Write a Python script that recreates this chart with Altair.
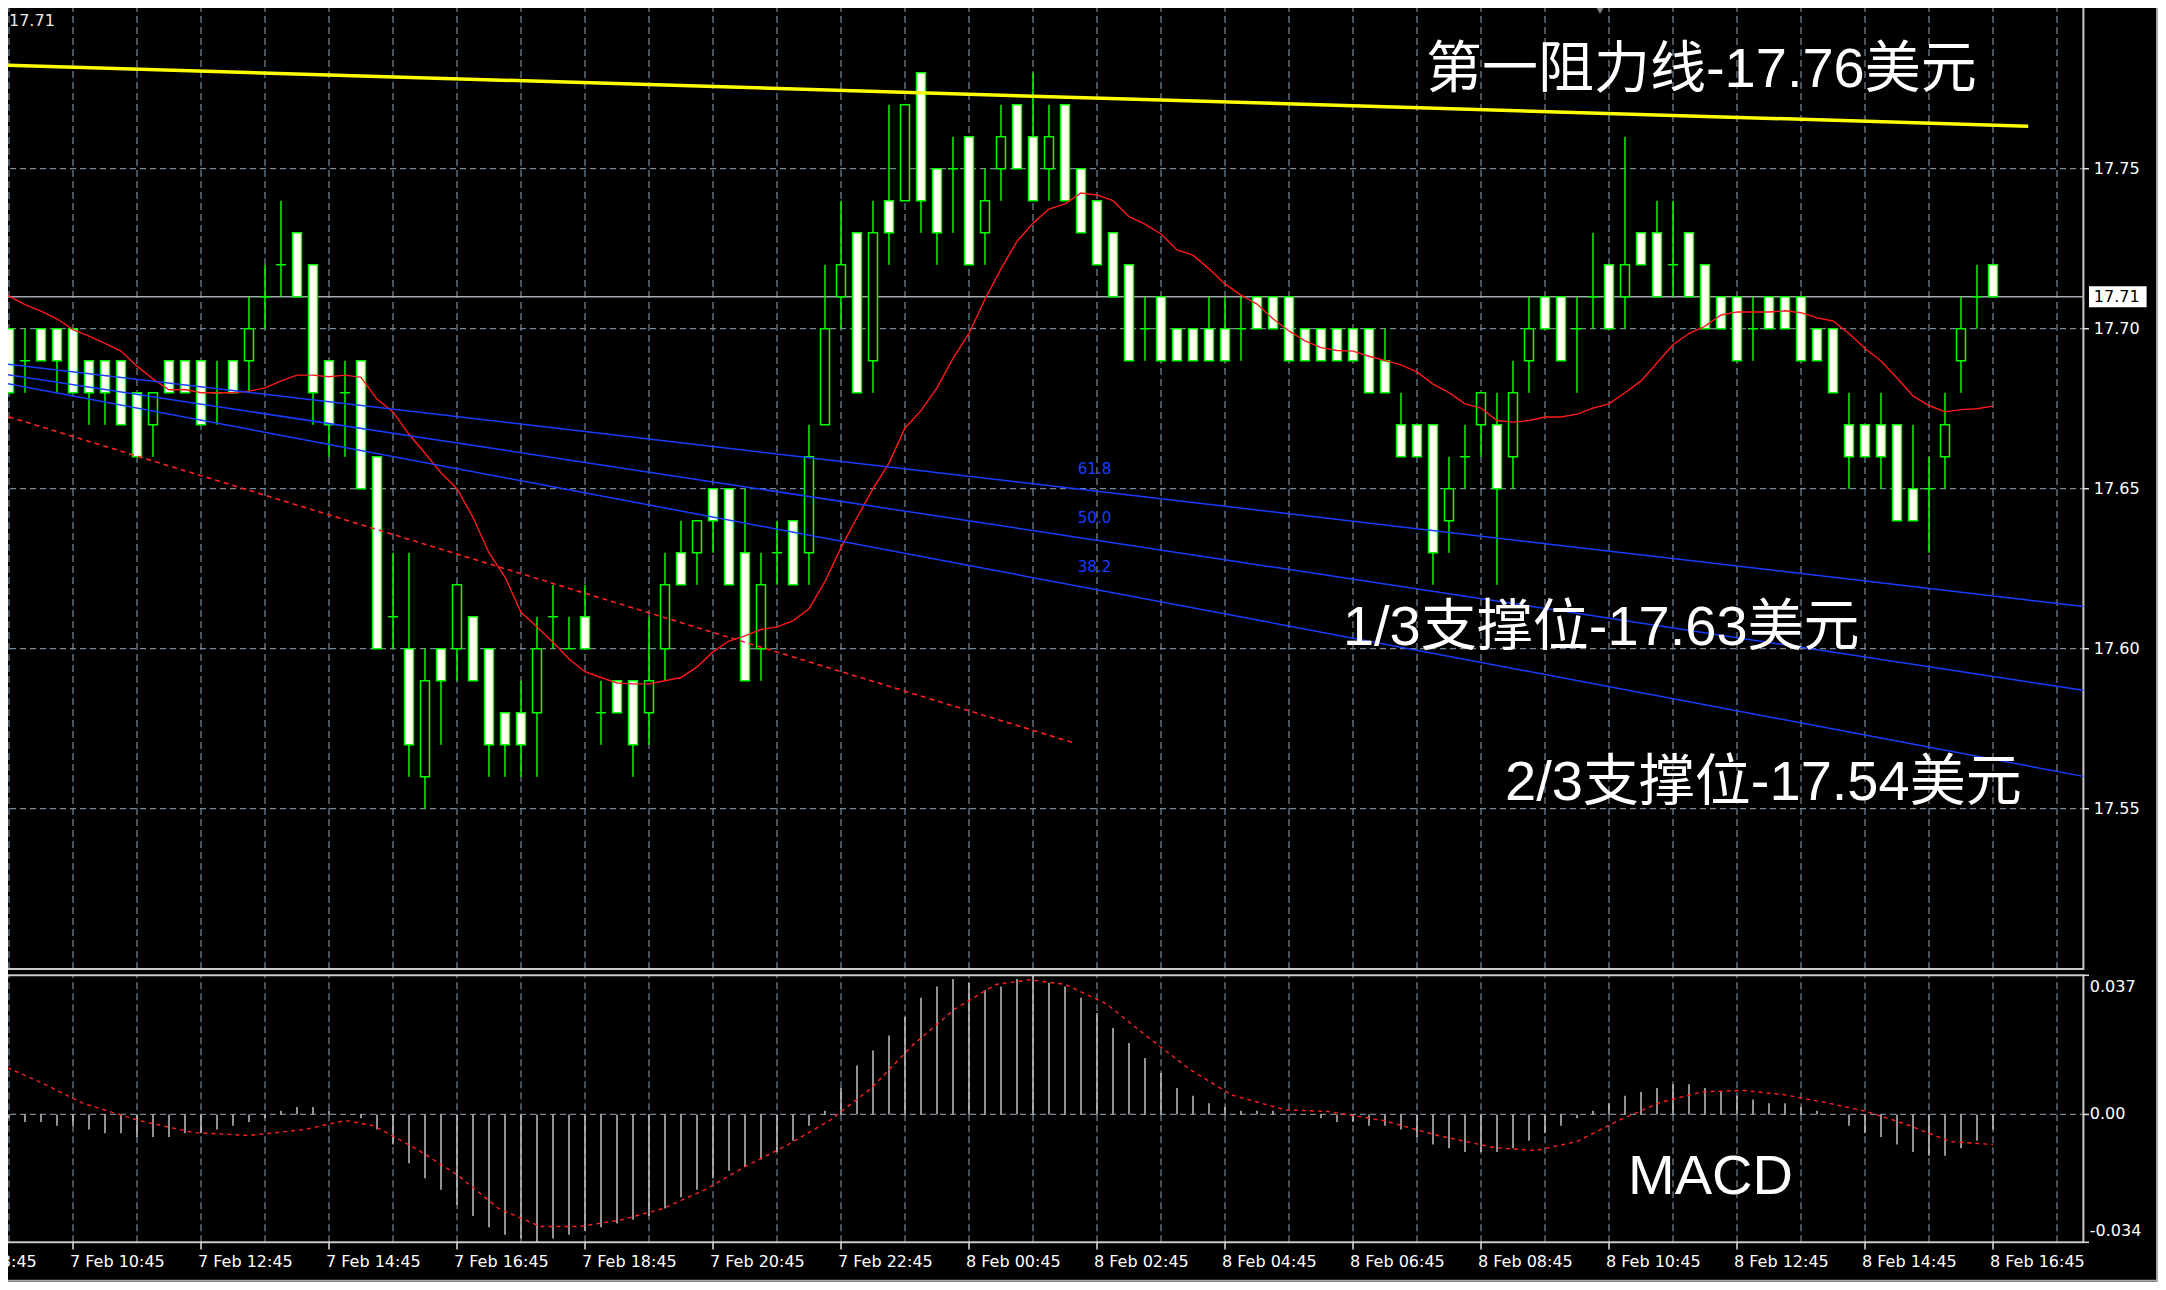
import altair as alt
import pandas as pd

# ---------------- data ----------------
open_ = [17.70,17.69,17.70,17.70,17.70,17.69,17.69,17.69,17.68,17.67,
         17.69,17.69,17.69,17.68,17.69,17.69,17.71,17.72,17.73,17.72,
         17.69,17.68,17.69,17.66,17.61,17.60,17.56,17.60,17.60,17.61,
         17.60,17.58,17.58,17.58,17.61,17.60,17.61,17.58,17.59,17.59,
         17.58,17.60,17.63,17.63,17.65,17.65,17.63,17.60,17.63,17.64,
         17.63,17.67,17.71,17.73,17.69,17.74,17.74,17.78,17.75,17.75,
         17.76,17.73,17.75,17.77,17.76,17.75,17.77,17.75,17.74,17.73,
         17.72,17.70,17.71,17.70,17.70,17.70,17.70,17.70,17.71,17.71,
         17.71,17.70,17.70,17.70,17.70,17.70,17.69,17.67,17.67,17.67,
         17.64,17.66,17.67,17.67,17.66,17.69,17.71,17.71,17.70,17.71,
         17.72,17.71,17.73,17.73,17.72,17.73,17.72,17.71,17.71,17.70,
         17.71,17.71,17.71,17.70,17.70,17.67,17.67,17.67,17.67,17.65,
         17.65,17.66,17.69,17.71,17.72]
close_ = [17.68,17.69,17.69,17.69,17.68,17.68,17.68,17.67,17.66,17.68,
          17.68,17.68,17.67,17.68,17.68,17.70,17.71,17.72,17.71,17.68,
          17.67,17.68,17.65,17.60,17.61,17.57,17.59,17.59,17.62,17.59,
          17.57,17.57,17.57,17.60,17.61,17.60,17.60,17.58,17.58,17.57,
          17.59,17.62,17.62,17.64,17.64,17.62,17.59,17.62,17.63,17.62,
          17.66,17.70,17.72,17.68,17.73,17.73,17.77,17.74,17.73,17.75,
          17.72,17.74,17.76,17.75,17.74,17.76,17.74,17.73,17.72,17.71,
          17.69,17.70,17.69,17.69,17.69,17.69,17.69,17.70,17.70,17.70,
          17.69,17.69,17.69,17.69,17.69,17.68,17.68,17.66,17.66,17.63,
          17.65,17.66,17.68,17.65,17.68,17.70,17.70,17.69,17.70,17.71,
          17.70,17.72,17.72,17.71,17.72,17.71,17.70,17.70,17.69,17.70,
          17.70,17.70,17.69,17.69,17.68,17.66,17.66,17.66,17.64,17.64,
          17.65,17.67,17.70,17.71,17.71]
high_ = [17.70,17.70,17.70,17.70,17.70,17.69,17.69,17.69,17.68,17.68,
         17.69,17.69,17.69,17.69,17.69,17.71,17.72,17.74,17.73,17.72,
         17.69,17.69,17.69,17.66,17.63,17.63,17.60,17.60,17.62,17.61,
         17.60,17.58,17.59,17.61,17.62,17.61,17.62,17.59,17.59,17.59,
         17.61,17.63,17.64,17.64,17.65,17.65,17.65,17.63,17.64,17.64,
         17.67,17.72,17.74,17.73,17.74,17.77,17.77,17.78,17.75,17.76,
         17.76,17.75,17.77,17.77,17.78,17.77,17.77,17.75,17.74,17.73,
         17.72,17.71,17.71,17.70,17.70,17.71,17.71,17.71,17.71,17.71,
         17.71,17.70,17.70,17.70,17.70,17.70,17.70,17.68,17.67,17.67,
         17.66,17.67,17.68,17.68,17.69,17.71,17.71,17.71,17.71,17.73,
         17.72,17.76,17.73,17.74,17.74,17.73,17.72,17.71,17.71,17.71,
         17.71,17.71,17.71,17.70,17.70,17.68,17.67,17.68,17.67,17.67,
         17.66,17.68,17.71,17.72,17.72]
low_ = [17.68,17.68,17.69,17.68,17.68,17.67,17.67,17.67,17.66,17.66,
        17.68,17.68,17.67,17.67,17.68,17.68,17.70,17.71,17.71,17.67,
        17.66,17.66,17.65,17.60,17.60,17.56,17.55,17.57,17.59,17.59,
        17.56,17.56,17.56,17.56,17.60,17.60,17.60,17.57,17.58,17.56,
        17.57,17.59,17.62,17.62,17.63,17.62,17.59,17.59,17.62,17.62,
        17.62,17.67,17.70,17.68,17.68,17.72,17.74,17.73,17.72,17.73,
        17.72,17.72,17.74,17.75,17.74,17.74,17.74,17.73,17.72,17.71,
        17.69,17.69,17.69,17.69,17.69,17.69,17.69,17.69,17.70,17.70,
        17.69,17.69,17.69,17.69,17.69,17.68,17.68,17.66,17.66,17.62,
        17.63,17.65,17.66,17.62,17.65,17.68,17.70,17.69,17.68,17.70,
        17.70,17.70,17.72,17.71,17.71,17.71,17.70,17.70,17.69,17.69,
        17.70,17.70,17.69,17.69,17.68,17.65,17.66,17.65,17.64,17.64,
        17.63,17.65,17.68,17.70,17.71]

ma_ = [17.7125,
       17.7102,17.7075,17.7055,17.7031,17.6997,17.6977,17.6954,17.6930,17.6883,17.6843,
       17.6809,17.6810,17.6800,17.6800,17.6800,17.6805,17.6815,17.6837,17.6855,17.6855,
       17.6850,17.6855,17.6848,17.6780,17.6740,17.6670,17.6611,17.6550,17.6500,17.6410,
       17.6300,17.6224,17.6114,17.6068,17.6020,17.5968,17.5928,17.5910,17.5893,17.5890,
       17.5890,17.5900,17.5910,17.5943,17.5990,17.6024,17.6040,17.6060,17.6068,17.6087,
       17.6125,17.6210,17.6316,17.6410,17.6500,17.6580,17.6690,17.6744,17.6815,17.6907,
       17.6985,17.7093,17.7187,17.7273,17.7330,17.7374,17.7390,17.7424,17.7418,17.7400,
       17.7350,17.7327,17.7296,17.7246,17.7230,17.7187,17.7140,17.7105,17.7077,17.7031,
       17.6993,17.6962,17.6941,17.6932,17.6930,17.6914,17.6900,17.6887,17.6865,17.6827,
       17.6800,17.6765,17.6752,17.6713,17.6708,17.6713,17.6724,17.6724,17.6733,17.6752,
       17.6765,17.6800,17.6837,17.6893,17.6950,17.6985,17.7008,17.7043,17.7052,17.7052,
       17.7052,17.7056,17.7050,17.7034,17.7024,17.6985,17.6938,17.6899,17.6846,17.6790,
       17.6760,17.6740,17.6747,17.6750,17.6758]

macd_hist = [-0.001,-0.002,-0.002,-0.003,-0.003,-0.004,-0.005,-0.005,-0.006,-0.006,
             -0.006,-0.005,-0.005,-0.004,-0.003,-0.002,-0.001,0.001,0.002,0.002,
             0.001,0.000,-0.001,-0.004,-0.008,-0.013,-0.017,-0.020,-0.024,-0.027,
             -0.030,-0.032,-0.033,-0.034,-0.033,-0.032,-0.031,-0.030,-0.029,-0.028,
             -0.027,-0.025,-0.022,-0.020,-0.017,-0.015,-0.014,-0.012,-0.010,-0.007,
             -0.003,0.001,0.007,0.013,0.017,0.021,0.026,0.031,0.034,0.036,
             0.035,0.033,0.034,0.036,0.037,0.035,0.034,0.031,0.027,0.023,
             0.019,0.015,0.011,0.007,0.005,0.003,0.002,0.001,0.001,0.001,
             0.000,0.000,-0.001,-0.002,-0.002,-0.003,-0.003,-0.004,-0.006,-0.008,
             -0.009,-0.010,-0.010,-0.010,-0.009,-0.007,-0.005,-0.003,-0.001,0.001,
             0.003,0.005,0.006,0.007,0.008,0.008,0.007,0.006,0.005,0.004,
             0.003,0.003,0.002,0.001,0.000,-0.003,-0.005,-0.006,-0.008,-0.010,
             -0.011,-0.011,-0.009,-0.007,-0.004]

sig_i = [-0.56, 2.0, 4.6, 8.1, 11.5, 15.0, 18.5, 21.0, 22.8, 25.4, 28.0, 30.6, 33.2,
         35.7, 38.3, 40.9, 43.5, 46.1, 48.7, 51.3, 53.9, 56.5, 59.1, 61.7, 63.8, 66.0,
         68.6, 71.2, 73.8, 76.4, 79.8, 82.4, 85.9, 89.3, 92.8, 95.4, 98.0, 100.6, 103.2,
         105.8, 108.4, 111.0, 113.5, 116.1, 118.7, 121.3, 124.0]
sig_v = [0.0133, 0.0085, 0.0030, -0.0016, -0.0048, -0.0056, -0.0040, -0.0016, -0.0030,
         -0.0090, -0.0160, -0.0250, -0.0298, -0.0298, -0.0280, -0.0250, -0.0200, -0.0137,
         -0.0080, -0.0016, 0.0070, 0.0185, 0.0280, 0.0346, 0.0358, 0.0346, 0.0294, 0.0205,
         0.0120, 0.0052, 0.0012, 0.0008, -0.0016, -0.0056, -0.0088, -0.0096, -0.0072,
         -0.0016, 0.0032, 0.0060, 0.0064, 0.0052, 0.0032, 0.0008, -0.0028, -0.0072, -0.0080]

price_ticks = [17.75, 17.70, 17.65, 17.60, 17.55]
price_tick_labels = ["17.75", "17.70", "17.65", "17.60", "17.55"]
last_price = 17.71
last_price_label = "17.71"

time_i = [-4, 4, 12, 20, 28, 36, 44, 52, 60, 68, 76, 84, 92, 100, 108, 116, 124]
time_labels = ["7 Feb 08:45", "7 Feb 10:45", "7 Feb 12:45", "7 Feb 14:45", "7 Feb 16:45",
               "7 Feb 18:45", "7 Feb 20:45", "7 Feb 22:45", "8 Feb 00:45", "8 Feb 02:45",
               "8 Feb 04:45", "8 Feb 06:45", "8 Feb 08:45", "8 Feb 10:45", "8 Feb 12:45",
               "8 Feb 14:45", "8 Feb 16:45"]

yellow_i = [-0.5625, 126.2]
yellow_p = [17.7824, 17.7633]
fib_i = [-0.5625, 129.65]
fib_618 = [17.6892, 17.6132]
fib_500 = [17.6860, 17.5870]
fib_382 = [17.6833, 17.5601]
fib_names = ["61.8", "50.0", "38.2"]
fib_label_p = [17.6562, 17.6408, 17.6255]
reddash_i = [-0.5625, 66.6]
reddash_p = [17.6733, 17.5705]

ann_text = ["第一阻力线-17.76美元", "1/3支撑位-17.63美元", "2/3支撑位-17.54美元"]
ann_i = [88.56, 83.37, 93.5]
ann_p = [17.7808, 17.6065, 17.5580]
macd_title = "MACD"

# ---------------- layout ----------------
# the plot area covers the whole 2166x1290 picture; the negative padding cancels the page margin
W, H = 2166, 1290
X_LEFT, X_RIGHT = -9 / 16.0, (2166 - 9) / 16.0
PANEL_R = 129.65
MAIN_TOP, MAIN_BOT = 17.8012, 17.4999
MACD_TOP, MACD_BOT = 0.037, -0.034

GRID = "#778899"
FRAME = "#c8c8c8"
GREEN = "#00ff00"
BLUE = "#1a3cff"
AXF = "DejaVu Sans"
CJK = "'Liberation Sans', 'Noto Sans CJK SC', sans-serif"

xsc = alt.Scale(domain=[X_LEFT, X_RIGHT], range=[0, W], nice=False, zero=False)
psc = alt.Scale(domain=[17.50, 17.80], range=[968.7, 8.7], nice=False, zero=False)
msc = alt.Scale(domain=[MACD_BOT, MACD_TOP], range=[1242.3, 975.3], nice=False, zero=False)


def ex(f):
    return alt.X(f, type="quantitative", scale=xsc, axis=None)


def py(f):
    return alt.Y(f, type="quantitative", scale=psc, axis=None)


def my(f):
    return alt.Y(f, type="quantitative", scale=msc, axis=None)


layers = []

# grid
grid_i = list(range(0, 129, 4))
layers.append(alt.Chart(pd.DataFrame({"i": grid_i, "a": MAIN_BOT, "b": MAIN_TOP}))
              .mark_rule(color=GRID, strokeWidth=1.2, strokeDash=[7, 4])
              .encode(x=ex("i"), y=py("a"), y2=alt.Y2("b")))
layers.append(alt.Chart(pd.DataFrame({"i": grid_i, "a": MACD_BOT, "b": MACD_TOP}))
              .mark_rule(color=GRID, strokeWidth=1.2, strokeDash=[7, 4])
              .encode(x=ex("i"), y=my("a"), y2=alt.Y2("b")))
layers.append(alt.Chart(pd.DataFrame({"p": price_ticks, "a": X_LEFT, "b": PANEL_R}))
              .mark_rule(color=GRID, strokeWidth=1.2, strokeDash=[6, 4])
              .encode(x=ex("a"), x2=alt.X2("b"), y=py("p")))
layers.append(alt.Chart(pd.DataFrame({"v": [0.0], "a": [X_LEFT], "b": [PANEL_R]}))
              .mark_rule(color=GRID, strokeWidth=1.2, strokeDash=[6, 4])
              .encode(x=ex("a"), x2=alt.X2("b"), y=my("v")))

# frames
layers.append(alt.Chart(pd.DataFrame({"a": [-1.5], "b": [PANEL_R], "lo": [MAIN_BOT], "hi": [MAIN_TOP]}))
              .mark_rect(fill="transparent", stroke=FRAME, strokeWidth=2)
              .encode(x=ex("a"), x2=alt.X2("b"), y=py("lo"), y2=alt.Y2("hi")))
layers.append(alt.Chart(pd.DataFrame({"a": [-1.5], "b": [PANEL_R], "lo": [MACD_BOT], "hi": [MACD_TOP]}))
              .mark_rect(fill="transparent", stroke=FRAME, strokeWidth=2)
              .encode(x=ex("a"), x2=alt.X2("b"), y=my("lo"), y2=alt.Y2("hi")))
# outer window border
layers.append(alt.Chart(pd.DataFrame({"i": [134.25], "a": [17.40], "b": [17.806]}))
              .mark_rule(color="#a8a8a8", strokeWidth=2)
              .encode(x=ex("i"), y=py("a"), y2=alt.Y2("b")))
layers.append(alt.Chart(pd.DataFrame({"p": [17.4025], "a": [-2.0], "b": [134.25]}))
              .mark_rule(color="#a8a8a8", strokeWidth=2)
              .encode(x=ex("a"), x2=alt.X2("b"), y=py("p")))

# current price line
layers.append(alt.Chart(pd.DataFrame({"i": [X_LEFT, PANEL_R], "p": [last_price, last_price]}))
              .mark_line(color="#a0a8b0", strokeWidth=1.5)
              .encode(x=ex("i"), y=py("p")))

# candles
cdf = pd.DataFrame({"i": list(range(len(open_))), "open": open_, "high": high_,
                    "low": low_, "close": close_})
base = alt.Chart(cdf)
layers.append(base.mark_rule(color=GREEN, strokeWidth=1.5)
              .encode(x=ex("i"), y=py("low"), y2=alt.Y2("high")))
layers.append(base.transform_filter("datum.open != datum.close")
              .transform_calculate(x0="datum.i - 0.28", x1="datum.i + 0.28")
              .mark_rect(stroke=GREEN, strokeWidth=1.5)
              .encode(x=ex("x0"), x2=alt.X2("x1"), y=py("open"), y2=alt.Y2("close"),
                      fill=alt.condition("datum.close < datum.open",
                                         alt.value("#ffffff"), alt.value("#000000"))))
layers.append(base.transform_filter("datum.open == datum.close")
              .transform_calculate(x0="datum.i - 0.32", x1="datum.i + 0.32")
              .mark_rule(color=GREEN, strokeWidth=1.5)
              .encode(x=ex("x0"), x2=alt.X2("x1"), y=py("open")))

# moving average
layers.append(alt.Chart(pd.DataFrame({"i": list(range(-1, 125)), "p": ma_}))
              .mark_line(color="#ff1a1a", strokeWidth=1.4)
              .encode(x=ex("i"), y=py("p")))

# fibonacci fan lines
fdf = pd.DataFrame({"i": fib_i * 3, "p": fib_618 + fib_500 + fib_382,
                    "name": [fib_names[0]] * 2 + [fib_names[1]] * 2 + [fib_names[2]] * 2})
layers.append(alt.Chart(fdf).mark_line(color=BLUE, strokeWidth=1.5)
              .encode(x=ex("i"), y=py("p"), detail="name:N"))
layers.append(alt.Chart(pd.DataFrame({"i": [66.8] * 3, "p": fib_label_p, "t": fib_names}))
              .mark_text(font=AXF, fontSize=15, color=BLUE, align="left", baseline="middle")
              .encode(x=ex("i"), y=py("p"), text="t:N"))

# red dashed trendline
layers.append(alt.Chart(pd.DataFrame({"i": reddash_i, "p": reddash_p}))
              .mark_line(color="#ff2020", strokeWidth=1.6, strokeDash=[5, 4])
              .encode(x=ex("i"), y=py("p")))

# yellow resistance line
layers.append(alt.Chart(pd.DataFrame({"i": yellow_i, "p": yellow_p}))
              .mark_line(color="#ffff00", strokeWidth=3.5)
              .encode(x=ex("i"), y=py("p")))

# MACD histogram and signal
hdf = pd.DataFrame({"i": list(range(len(macd_hist))), "v": macd_hist, "z": 0.0})
layers.append(alt.Chart(hdf).mark_rule(color="#d0d0d0", strokeWidth=1.4)
              .encode(x=ex("i"), y=my("z"), y2=alt.Y2("v")))
layers.append(alt.Chart(pd.DataFrame({"i": sig_i, "v": sig_v}))
              .mark_line(color="#ff2020", strokeWidth=1.4, strokeDash=[4, 4])
              .encode(x=ex("i"), y=my("v")))

# price axis: ticks, labels, last-price box
layers.append(alt.Chart(pd.DataFrame({"p": price_ticks, "a": PANEL_R, "b": 130.0}))
              .mark_rule(color="#e0e0e0", strokeWidth=1.5)
              .encode(x=ex("a"), x2=alt.X2("b"), y=py("p")))
layers.append(alt.Chart(pd.DataFrame({"i": [130.3] * 5, "p": price_ticks, "t": price_tick_labels}))
              .mark_text(font=AXF, fontSize=16, color="#ffffff", align="left", baseline="middle")
              .encode(x=ex("i"), y=py("p"), text="t:N"))
layers.append(alt.Chart(pd.DataFrame({"a": [130.0], "b": [133.6], "lo": [17.7067], "hi": [17.7133]}))
              .mark_rect(fill="#ffffff")
              .encode(x=ex("a"), x2=alt.X2("b"), y=py("lo"), y2=alt.Y2("hi")))
layers.append(alt.Chart(pd.DataFrame({"i": [130.3], "p": [last_price], "t": [last_price_label]}))
              .mark_text(font=AXF, fontSize=16, color="#000000", align="left", baseline="middle")
              .encode(x=ex("i"), y=py("p"), text="t:N"))

# MACD axis labels
macd_ticks = [MACD_TOP, 0.0, MACD_BOT]
layers.append(alt.Chart(pd.DataFrame({"v": macd_ticks, "a": PANEL_R, "b": 130.0}))
              .mark_rule(color="#e0e0e0", strokeWidth=1.5)
              .encode(x=ex("a"), x2=alt.X2("b"), y=my("v")))
layers.append(alt.Chart(pd.DataFrame({"i": [130.05], "v": [MACD_TOP], "t": ["0.037"]}))
              .mark_text(font=AXF, fontSize=16, color="#ffffff", align="left", baseline="top", dy=4)
              .encode(x=ex("i"), y=my("v"), text="t:N"))
layers.append(alt.Chart(pd.DataFrame({"i": [130.05], "v": [0.0], "t": ["0.00"]}))
              .mark_text(font=AXF, fontSize=16, color="#ffffff", align="left", baseline="middle")
              .encode(x=ex("i"), y=my("v"), text="t:N"))
layers.append(alt.Chart(pd.DataFrame({"i": [130.05], "v": [MACD_BOT], "t": ["-0.034"]}))
              .mark_text(font=AXF, fontSize=16, color="#ffffff", align="left", baseline="bottom", dy=-3)
              .encode(x=ex("i"), y=my("v"), text="t:N"))

# time axis
layers.append(alt.Chart(pd.DataFrame({"i": time_i, "a": MACD_BOT, "b": -0.0359}))
              .mark_rule(color="#e0e0e0", strokeWidth=1.5)
              .encode(x=ex("i"), y=my("a"), y2=alt.Y2("b")))
layers.append(alt.Chart(pd.DataFrame({"i": time_i, "v": MACD_BOT, "t": time_labels}))
              .mark_text(font=AXF, fontSize=16, color="#ffffff", align="left", baseline="top", dy=12, dx=-3)
              .encode(x=ex("i"), y=my("v"), text="t:N"))

# annotations
layers.append(alt.Chart(pd.DataFrame({"i": ann_i, "p": ann_p, "t": ann_text}))
              .mark_text(font=CJK, fontSize=56, color="#ffffff", align="left", baseline="middle")
              .encode(x=ex("i"), y=py("p"), text="t:N"))
layers.append(alt.Chart(pd.DataFrame({"i": [101.19], "v": [-0.01663], "t": [macd_title]}))
              .mark_text(font=CJK, fontSize=56, color="#ffffff", align="left", baseline="middle")
              .encode(x=ex("i"), y=my("v"), text="t:N"))

# top-left price readout and chart-shift marker
layers.append(alt.Chart(pd.DataFrame({"i": [0.0], "p": [17.7962], "t": [last_price_label]}))
              .mark_text(font=AXF, fontSize=16, color="#e8e8e8", align="left", baseline="middle")
              .encode(x=ex("i"), y=py("p"), text="t:N"))
layers.append(alt.Chart(pd.DataFrame({"i": [99.44], "p": [17.7995]}))
              .mark_point(shape="triangle-down", filled=True, size=70, color="#b8b8b8")
              .encode(x=ex("i"), y=py("p")))

chart = (alt.layer(*layers)
         .resolve_scale(y="independent")
         .properties(width=W, height=H,
                     padding={"left": -8, "top": -8, "right": -8, "bottom": -8},
                     autosize=alt.AutoSizeParams(type="none"))
         .configure(background="#000000")
         .configure_view(stroke="transparent"))

chart.save("out.html", embed_options={"renderer": "svg", "actions": False})
